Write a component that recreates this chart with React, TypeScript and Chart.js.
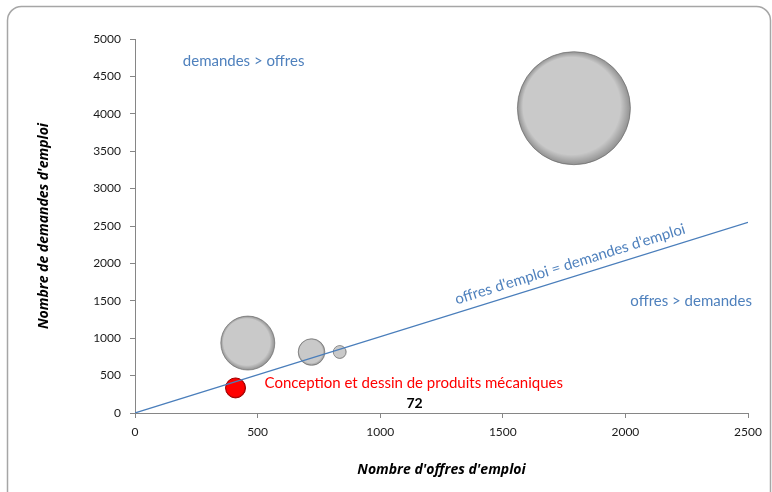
import React, { useEffect, useRef } from "react";
import { Chart, registerables } from "chart.js";

Chart.register(...registerables);

// ---- Data ----
const jobNames = ["Métier A", "Métier B", "Métier C", "Métier D", "Conception et dessin de produits mécaniques"];
const offres = [1790, 460, 720, 835, 410];
const demandes = [4075, 935, 815, 815, 335];
const bubbleSizes = [2300, 525, 128, 30, 72];
const highlightIndex = 4;
const highlightValueLabel = "72";

const equalityX = [0, 2500];
const equalityY = [0, 2550];

const xTickValues = [0, 500, 1000, 1500, 2000, 2500];
const yTickValues = [0, 500, 1000, 1500, 2000, 2500, 3000, 3500, 4000, 4500, 5000];

const xTitle = "Nombre d'offres d'emploi";
const yTitle = "Nombre de demandes d'emploi";
const zoneTopLeft = "demandes > offres";
const zoneBottomRight = "offres > demandes";
const equalityLabel = "offres d'emploi = demandes d'emploi";

const FONT = "Lato, 'Open Sans', sans-serif";
const TITLE_FONT = "'Open Sans', Lato, sans-serif";
const BLUE = "#4f81bd";

function radiusFor(size: number) {
  return 10 * Math.sqrt(size / 72);
}

const frame = {
  id: "frame",
  beforeDraw(chart: any) {
    const ctx = chart.ctx;
    ctx.save();
    ctx.fillStyle = "#ffffff";
    ctx.fillRect(0, 0, chart.width, chart.height);
    ctx.strokeStyle = "#a6a6a6";
    ctx.lineWidth = 1.5;
    ctx.beginPath();
    ctx.roundRect(7.5, 6.5, 763, 520, 14);
    ctx.stroke();
    ctx.restore();
  },
};

const bubbleShade = {
  id: "bubbleShade",
  afterDatasetDraw(chart: any, args: any) {
    const meta = args.meta;
    if (meta.type !== "bubble") return;
    const ctx = chart.ctx;
    meta.data.forEach((el: any) => {
      const { x, y } = el.getProps(["x", "y"], true);
      const r = el.options.radius;
      const g = ctx.createRadialGradient(x - r * 0.04, y - r * 0.04, r * 0.86, x, y, r);
      g.addColorStop(0, "rgba(0,0,0,0)");
      g.addColorStop(1, "rgba(0,0,0,0.28)");
      ctx.save();
      ctx.beginPath();
      ctx.arc(x, y, r, 0, Math.PI * 2);
      ctx.fillStyle = g;
      ctx.fill();
      ctx.restore();
    });
  },
};

const annotations = {
  id: "annotations",
  afterDraw(chart: any) {
    const ctx = chart.ctx;
    const xs = chart.scales.x;
    const ys = chart.scales.y;
    ctx.save();
    ctx.font = `15px ${FONT}`;
    ctx.fillStyle = BLUE;
    ctx.textBaseline = "middle";
    ctx.textAlign = "left";
    ctx.fillText(zoneTopLeft, xs.getPixelForValue(195), ys.getPixelForValue(4700));
    ctx.fillText(zoneBottomRight, xs.getPixelForValue(2020), ys.getPixelForValue(1500));

    // rotated label along equality line
    const x0 = xs.getPixelForValue(equalityX[0]);
    const y0 = ys.getPixelForValue(equalityY[0]);
    const x1 = xs.getPixelForValue(equalityX[1]);
    const y1 = ys.getPixelForValue(equalityY[1]);
    const ang = Math.atan2(y1 - y0, x1 - x0);
    const t = 1790 / equalityX[1];
    const cx = x0 + (x1 - x0) * t;
    const cy = y0 + (y1 - y0) * t;
    ctx.translate(cx, cy);
    ctx.rotate(ang);
    ctx.textAlign = "center";
    ctx.textBaseline = "alphabetic";
    ctx.fillText(equalityLabel, 0, -8);
    ctx.restore();

    // highlighted bubble labels
    const meta = chart.getDatasetMeta(1);
    const el = meta.data[0];
    if (el) {
      const { x, y } = el.getProps(["x", "y"], true);
      ctx.save();
      ctx.font = `15px ${FONT}`;
      ctx.fillStyle = "#ff0000";
      ctx.textAlign = "left";
      ctx.textBaseline = "middle";
      ctx.fillText(jobNames[highlightIndex], x + 29, y - 5);
      ctx.font = `bold 14px ${FONT}`;
      ctx.fillStyle = "#000000";
      ctx.textAlign = "center";
      ctx.fillText(highlightValueLabel, x + 179, y + 16);
      ctx.restore();
    }
  },
};

export default function App() {
  const ref = useRef<HTMLCanvasElement | null>(null);

  useEffect(() => {
    if (!ref.current) return;
    const others = offres
      .map((x, i) => ({ x, y: demandes[i], r: radiusFor(bubbleSizes[i]), i }))
      .filter((p) => p.i !== highlightIndex);
    const hi = [
      {
        x: offres[highlightIndex],
        y: demandes[highlightIndex],
        r: radiusFor(bubbleSizes[highlightIndex]),
      },
    ];
    const chart = new Chart(ref.current, {
      type: "bubble",
      data: {
        datasets: [
          {
            type: "bubble",
            label: "Métiers",
            data: others,
            backgroundColor: "#c9c9c9",
            borderColor: "#a0a0a0",
            borderWidth: 1,
            order: 3,
          } as any,
          {
            type: "bubble",
            label: jobNames[highlightIndex],
            data: hi,
            backgroundColor: "#ff0000",
            borderColor: "#b00000",
            borderWidth: 1,
            order: 2,
          } as any,
          {
            type: "scatter",
            label: "égalité",
            data: equalityX.map((x, i) => ({ x, y: equalityY[i] })),
            showLine: true,
            borderColor: "#4a7ebb",
            borderWidth: 1.2,
            pointRadius: 0,
            order: 1,
          } as any,
        ],
      },
      options: {
        animation: false,
        responsive: false,
        devicePixelRatio: 1,
        layout: { autoPadding: false, padding: { left: 0, top: 39, right: 24, bottom: 0 } },
        plugins: {
          legend: { display: false },
          tooltip: { enabled: false },
        },
        scales: {
          x: {
            type: "linear",
            min: 0,
            max: 2500,
            afterBuildTicks: (axis: any) => {
              axis.ticks = xTickValues.map((v) => ({ value: v }));
            },
            afterFit: (axis: any) => {
              axis.height = 79;
            },
            ticks: {
              color: "#1a1a1a",
              font: { family: FONT, size: 12 },
              padding: 7,
              maxRotation: 0,
              callback: (v: any) => String(v),
            },
            grid: {
              display: true,
              drawOnChartArea: false,
              drawTicks: true,
              tickLength: 5,
              color: "#868686",
            },
            border: { color: "#868686", width: 1 },
            title: {
              display: true,
              text: xTitle,
              color: "#000",
              font: { family: TITLE_FONT, size: 14, style: "italic", weight: "bold" },
              padding: { top: 0, bottom: 14 },
            },
          },
          y: {
            type: "linear",
            min: 0,
            max: 5000,
            afterBuildTicks: (axis: any) => {
              axis.ticks = yTickValues.map((v) => ({ value: v }));
            },
            afterFit: (axis: any) => {
              axis.width = 135;
            },
            ticks: {
              color: "#1a1a1a",
              font: { family: FONT, size: 12 },
              padding: 9,
              callback: (v: any) => String(v),
            },
            grid: {
              display: true,
              drawOnChartArea: false,
              drawTicks: true,
              tickLength: 5,
              color: "#868686",
            },
            border: { color: "#868686", width: 1 },
            title: {
              display: true,
              text: yTitle,
              color: "#000",
              font: { family: TITLE_FONT, size: 14, style: "italic", weight: "bold" },
              padding: { top: 36, bottom: 0 },
            },
          },
        },
      },
      plugins: [frame, bubbleShade, annotations],
    } as any);
    return () => chart.destroy();
  }, []);

  return (
    <div style={{ position: "absolute", left: 0, top: 0, width: 772, height: 492 }}>
      <canvas ref={ref} width={772} height={492} style={{ display: "block", width: 772, height: 492 }} />
    </div>
  );
}
